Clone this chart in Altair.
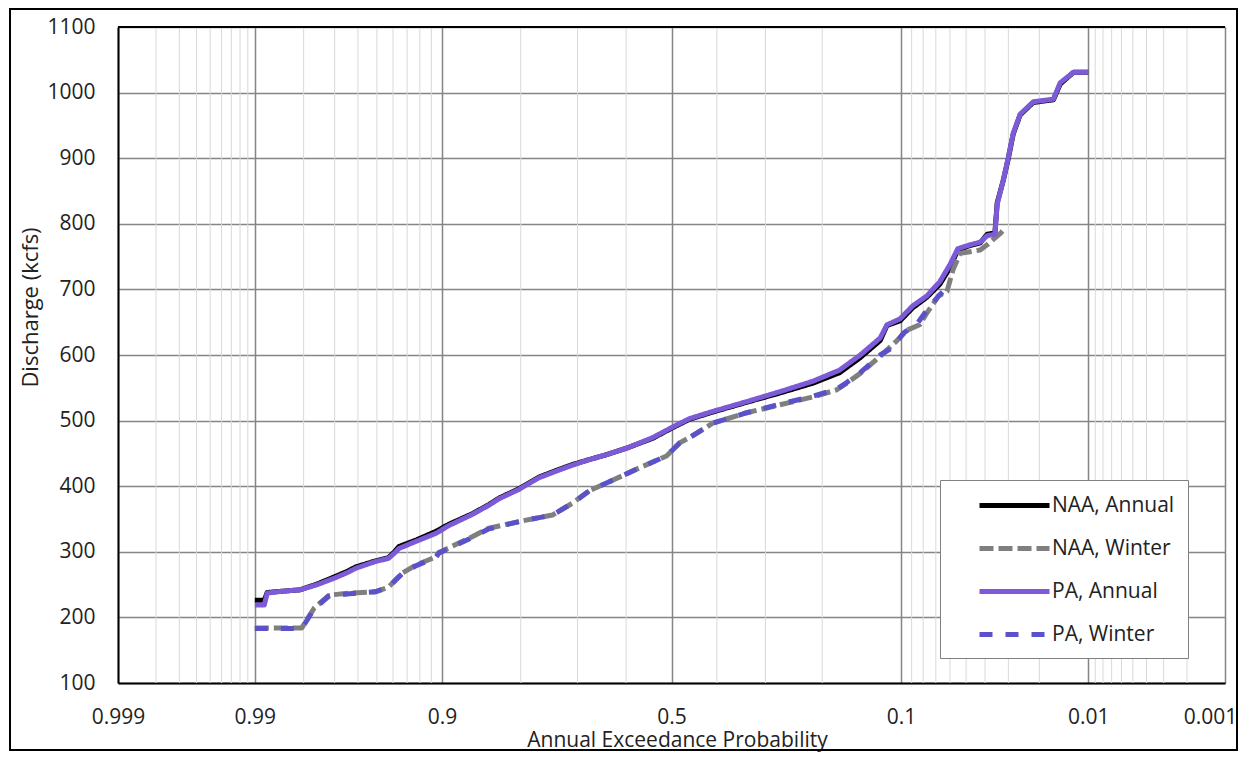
import altair as alt
import pandas as pd
from statistics import NormalDist

# ---------------- data ----------------
series_names = ["NAA, Annual", "NAA, Winter", "PA, Annual", "PA, Winter"]

naa_annual_p = [0.990, 0.9885, 0.988, 0.985, 0.981, 0.976, 0.970, 0.965, 0.961, 0.951,
                0.943, 0.939, 0.936, 0.923, 0.906, 0.893, 0.867, 0.846, 0.832, 0.803,
                0.770, 0.740, 0.710, 0.675, 0.642, 0.599, 0.542, 0.498, 0.460, 0.409,
                0.337, 0.273, 0.215, 0.174, 0.146, 0.122, 0.1145, 0.101, 0.089, 0.077,
                0.067, 0.060, 0.055, 0.0477, 0.0424, 0.039, 0.0355, 0.0345, 0.032, 0.030,
                0.0282, 0.0258, 0.0217, 0.0165, 0.015, 0.0124, 0.010]
naa_annual_q = [226, 226, 238, 240, 242, 251, 262, 270, 277, 286,
                291, 300, 308, 318, 331, 342, 358, 372, 382, 396,
                414, 424, 433, 441, 448, 458, 473, 489, 502, 513,
                528, 542, 557, 573, 596, 622, 645, 652, 672, 688,
                708, 733, 760, 767, 771, 784, 786, 832, 866, 900,
                937, 966, 985, 989, 1013, 1031, 1031]

pa_annual_p = naa_annual_p
pa_annual_q = [219, 219, 237, 240, 242, 250, 260, 268, 275, 285,
               290, 298, 305, 316, 328, 340, 357, 371, 381, 395,
               413, 423, 432, 441, 448, 458, 474, 490, 503, 514,
               529, 544, 560, 577, 600, 626, 646, 655, 675, 690,
               712, 738, 762, 768, 772, 782, 784, 830, 866, 902,
               938, 967, 986, 990, 1015, 1031, 1031]

naa_winter_p = [0.990, 0.9805, 0.977, 0.972, 0.964, 0.951, 0.943, 0.934, 0.923, 0.906,
                0.903, 0.893, 0.867, 0.846, 0.798, 0.747, 0.710, 0.677, 0.629, 0.571,
                0.511, 0.482, 0.460, 0.409, 0.337, 0.273, 0.215, 0.178, 0.164, 0.146,
                0.122, 0.104, 0.094, 0.083, 0.077, 0.068, 0.062, 0.058, 0.0535, 0.0424,
                0.039, 0.0333, 0.032]
naa_winter_q = [184, 184, 214, 234, 237, 239, 246, 267, 280, 292,
                299, 306, 323, 336, 347, 356, 374, 393, 409, 428,
                446, 466, 474, 496, 512, 524, 536, 547, 557, 572,
                598, 622, 638, 646, 664, 690, 697, 730, 755, 760,
                768, 785, 790]

pa_winter_p = [0.990, 0.9805, 0.977, 0.972, 0.964, 0.951, 0.943, 0.934, 0.923, 0.906,
               0.903, 0.893, 0.867, 0.846, 0.798, 0.747, 0.710, 0.677, 0.629, 0.571,
               0.511, 0.482, 0.460, 0.409, 0.337, 0.273, 0.215, 0.178, 0.164, 0.146,
               0.122, 0.108, 0.098, 0.085, 0.077, 0.068, 0.062]
pa_winter_q = [183, 183, 213, 233, 236, 239, 246, 266, 279, 291,
               298, 305, 322, 335, 347, 356, 374, 393, 409, 428,
               446, 466, 474, 496, 512, 525, 537, 548, 558, 573,
               600, 612, 633, 648, 668, 690, 703]

major_p = [0.999, 0.99, 0.9, 0.5, 0.1, 0.01, 0.001]
minor_p = [0.998, 0.997, 0.996, 0.995, 0.994, 0.993, 0.992, 0.991,
           0.98, 0.97, 0.96, 0.95, 0.94, 0.93, 0.92, 0.91,
           0.8, 0.7, 0.6, 0.4, 0.3, 0.2,
           0.09, 0.08, 0.07, 0.06, 0.05, 0.04, 0.03, 0.02,
           0.009, 0.008, 0.007, 0.006, 0.005, 0.004, 0.003, 0.002]
y_ticks = [100, 200, 300, 400, 500, 600, 700, 800, 900, 1000, 1100]

colors = ["#000000", "#7f7f7f", "#7d5bd8", "#5b52c9"]
dashes = [[1, 0], [14, 5], [1, 0], [13, 13]]
widths = [5, 5, 4.5, 3.5]

# ---------------- build tables ----------------
nd = NormalDist()


def zpos(p):
    return nd.inv_cdf(1.0 - p)


rows = []
for name, ps, qs in [("NAA, Annual", naa_annual_p, naa_annual_q),
                     ("NAA, Winter", naa_winter_p, naa_winter_q),
                     ("PA, Annual", pa_annual_p, pa_annual_q),
                     ("PA, Winter", pa_winter_p, pa_winter_q)]:
    for i, (p, q) in enumerate(zip(ps, qs)):
        rows.append({"series": name, "p": p, "z": zpos(p), "q": q, "i": i})
df = pd.DataFrame(rows)

W, H = 1107, 656
zmin, zmax = zpos(0.999), zpos(0.001)
px_per_z = W / (zmax - zmin)
# the right-most label (0.001) sits a little inside the plot edge, as in Excel
z_last_label = zmax - 15 / px_per_z
axis_z = [zpos(p) for p in major_p] + [z_last_label]
minor_df = pd.DataFrame({"z": [zpos(p) for p in minor_p]})

FONT = "Open Sans"
NB = "\u00a0"

xscale = alt.Scale(domain=[zmin, zmax], nice=False, zero=False)
yscale = alt.Scale(domain=[100, 1100], nice=False, zero=False)

label_expr = ("datum.value < -2.7 ? '0.999' : datum.value < -1.8 ? '0.99' : "
              "datum.value < -0.6 ? '0.9' : datum.value < 0.6 ? '0.5' : "
              "datum.value < 1.8 ? '0.1' : datum.value < 2.7 ? '0.01' : "
              "datum.value < 3.05 ? '0.001' : ''")

xaxis = alt.Axis(values=axis_z, grid=True, gridColor="#858585", gridWidth=1.5,
                 gridOpacity={"condition": {"test": "datum.value > 2.9 && datum.value < 3.05",
                                            "value": 0}, "value": 1},
                 domain=True, domainColor="#000000", domainWidth=2, ticks=False,
                 labelExpr=label_expr, labelFont=FONT, labelFontSize=21,
                 labelColor="#222222", labelPadding=34, labelBaseline="middle",
                 labelAlign="center",
                 labelFlush=False, labelOverlap=False, labelBound=False,
                 title="Annual Exceedance Probability", titleFont=FONT,
                 titleFontSize=21, titleFontWeight="normal", titleColor="#222222",
                 titleX=559, titleY=57, titleBaseline="middle", titleAlign="center")

yaxis = alt.Axis(values=y_ticks, grid=True, gridColor="#858585", gridWidth=1.5,
                 domain=True, domainColor="#000000", domainWidth=2, ticks=False,
                 labelFont=FONT, labelFontSize=21, labelColor="#222222",
                 labelPadding=23, format="d",
                 title="Discharge (kcfs)", titleFont=FONT, titleFontSize=22,
                 titleFontWeight="normal", titleColor="#222222",
                 titleX=-88, titleY=280, titleAngle=270, titleAlign="center",
                 titleBaseline="middle")

legend = alt.Legend(title=None, orient="none", legendX=822, legendY=453,
                    fillColor="#ffffff", strokeColor="#808080", padding=13,
                    symbolType="M-3.5,0H3.5", symbolSize=400, symbolOffset=49,
                    labelFont=FONT, labelFontSize=21, labelColor="#222222",
                    labelOffset=25, rowPadding=20,
                    labelExpr="datum.label + '" + NB * 10 + "'")

color = alt.Color("series:N", scale=alt.Scale(domain=series_names, range=colors),
                  legend=legend)
dash = alt.StrokeDash("series:N", scale=alt.Scale(domain=series_names, range=dashes),
                      legend=legend)
swidth = alt.StrokeWidth("series:N", scale=alt.Scale(domain=series_names, range=widths),
                         legend=legend)

# frame around the whole chart
frame = alt.Chart(pd.DataFrame({"a": [0]})).mark_rect(
    fill="transparent", stroke="#000000", strokeWidth=2
).encode(x=alt.value(-108), x2=alt.value(W + 12), y=alt.value(-18), y2=alt.value(H + 67))

minor = alt.Chart(minor_df).mark_rule(color="#d9d9d9", strokeWidth=1).encode(
    x=alt.X("z:Q", scale=xscale, axis=xaxis)
)

layers = [frame, minor]
for name in series_names:
    layers.append(
        alt.Chart(df).transform_filter(alt.datum.series == name).mark_line(
            strokeJoin="round", strokeCap="butt"
        ).encode(
            x=alt.X("z:Q", scale=xscale, axis=xaxis),
            y=alt.Y("q:Q", scale=yscale, axis=yaxis),
            color=color, strokeDash=dash, strokeWidth=swidth,
            order="i:Q",
        )
    )

top = alt.Chart(pd.DataFrame({"a": [0]})).mark_rule(color="#000000", strokeWidth=2).encode(
    y=alt.datum(1100, scale=yscale)
)
layers.append(top)

chart = alt.layer(*layers).properties(
    width=W, height=H,
    autosize=alt.AutoSizeParams(type="none"),
    padding={"left": 110, "top": 19, "right": 14, "bottom": 69},
).configure_view(stroke=None).configure(background="white")

chart.save("out.html", embed_options={"renderer": "svg", "actions": False})
